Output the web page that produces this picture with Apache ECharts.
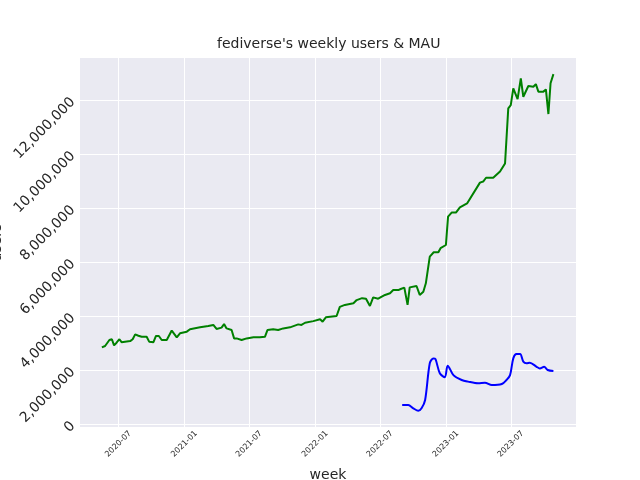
<!DOCTYPE html>
<html>
<head>
<meta charset="utf-8">
<script src="https://cdn.jsdelivr.net/npm/echarts@6/dist/echarts.min.js"></script>
<style>html,body{margin:0;padding:0;background:#fff;}#c{width:640px;height:480px;}</style>
</head>
<body>
<div id="c"></div>
<script>
const greenDates = ['2020-05-16','2020-05-25','2020-05-30','2020-06-06','2020-06-13','2020-06-19','2020-06-26','2020-07-04','2020-07-10','2020-08-03','2020-08-10','2020-08-17','2020-08-26','2020-09-04','2020-09-18','2020-09-25','2020-10-07','2020-10-14','2020-10-22','2020-10-30','2020-11-13','2020-11-27','2020-12-11','2020-12-20','2021-01-08','2021-01-17','2021-02-14','2021-03-09','2021-03-23','2021-04-01','2021-04-15','2021-04-22','2021-04-29','2021-05-13','2021-05-20','2021-05-27','2021-06-10','2021-06-24','2021-07-13','2021-07-31','2021-08-14','2021-08-21','2021-09-06','2021-09-20','2021-10-04','2021-10-23','2021-11-15','2021-11-24','2021-12-04','2021-12-27','2022-01-15','2022-01-22','2022-01-31','2022-03-02','2022-03-11','2022-03-25','2022-04-18','2022-04-27','2022-05-12','2022-05-23','2022-06-03','2022-06-12','2022-06-26','2022-07-15','2022-07-29','2022-08-07','2022-08-21','2022-08-28','2022-09-07','2022-09-16','2022-09-22','2022-10-11','2022-10-20','2022-10-30','2022-11-06','2022-11-17','2022-11-28','2022-12-11','2022-12-17','2023-01-01','2023-01-07','2023-01-17','2023-01-29','2023-02-09','2023-03-01','2023-04-06','2023-04-15','2023-04-23','2023-05-13','2023-06-01','2023-06-15','2023-06-24','2023-07-01','2023-07-08','2023-07-20','2023-07-29','2023-08-05','2023-08-19','2023-09-02','2023-09-09','2023-09-16','2023-09-30','2023-10-07','2023-10-14','2023-10-20','2023-10-28'];
const greenValues = [2840000,2890000,2830000,3110000,3140000,2910000,3010000,3140000,3030000,3070000,3140000,3320000,3270000,3230000,3230000,3050000,3030000,3260000,3260000,3110000,3110000,3460000,3210000,3360000,3420000,3510000,3580000,3630000,3670000,3520000,3570000,3700000,3540000,3480000,3170000,3170000,3110000,3170000,3210000,3210000,3230000,3480000,3510000,3480000,3540000,3580000,3690000,3670000,3750000,3810000,3880000,3790000,3950000,4000000,4340000,4410000,4470000,4590000,4660000,4640000,4370000,4690000,4640000,4780000,4840000,4960000,4960000,5000000,5050000,4410000,5060000,5110000,4780000,4900000,5210000,6200000,6360000,6360000,6510000,6630000,7680000,7830000,7830000,8020000,8170000,8940000,8980000,9120000,9120000,9350000,9650000,11690000,11810000,12430000,12030000,12800000,12120000,12520000,12490000,12590000,12310000,12310000,12390000,11480000,12620000,12960000];
const blueDates = ['2022-09-01','2022-09-18','2022-10-02','2022-10-16','2022-10-25','2022-11-04','2022-11-17','2022-11-27','2022-12-03','2022-12-15','2022-12-29','2023-01-06','2023-01-22','2023-02-14','2023-03-04','2023-04-01','2023-04-20','2023-05-09','2023-06-06','2023-06-19','2023-06-29','2023-07-08','2023-07-17','2023-07-27','2023-08-05','2023-08-14','2023-08-23','2023-09-11','2023-09-20','2023-10-02','2023-10-12','2023-10-28'];
const blueValues = [700000,700000,580000,490000,580000,890000,2250000,2430000,2400000,1880000,1730000,2160000,1810000,1630000,1570000,1510000,1530000,1440000,1480000,1630000,1810000,2430000,2590000,2590000,2310000,2250000,2270000,2120000,2060000,2120000,2000000,1960000];
const yTicks = [0,2000000,4000000,6000000,8000000,10000000,12000000];
const xTicks = ['2020-07-01','2021-01-01','2021-07-01','2022-01-01','2022-07-01','2023-01-01','2023-07-01'];

const ts = s => new Date(s + 'T00:00:00Z').getTime();
const chart = echarts.init(document.getElementById('c'), null, {renderer:'canvas'});
const font = 'DejaVu Sans';
chart.setOption({
  animation: false,
  backgroundColor: '#ffffff',
  textStyle: {fontFamily: font},
  title: {text: "fediverse's weekly users & MAU", left: 217, top: 37, padding: 0,
    textStyle: {fontFamily: font, fontSize: 14, fontWeight: 'normal', color: '#262626'}},
  grid: {left: 80, right: 64, top: 58, bottom: 53, show: true, backgroundColor: '#EAEAF2', borderWidth: 0,
    containLabel: false, outerBoundsMode: 'none'},
  xAxis: {
    type: 'value', min: ts('2020-03-16'), max: ts('2023-12-30'),
    name: 'week', nameLocation: 'middle', nameGap: 41,
    nameTextStyle: {fontFamily: font, fontSize: 14, color: '#262626'},
    axisLine: {show: false}, 
    axisTick: {show: false, customValues: xTicks.map(ts)},
    axisLabel: {customValues: xTicks.map(ts), rotate: 45, fontSize: 8, color: '#262626', margin: 17,
      align: 'center', verticalAlign: 'middle', fontFamily: font,
      formatter: v => { const d = new Date(v); return d.getUTCFullYear() + '-' + String(d.getUTCMonth()+1).padStart(2,'0'); }},
    splitLine: {show: true, lineStyle: {color: '#ffffff', width: 1}}
  },
  yAxis: {
    type: 'value', min: -111111, max: 13555556,
    name: 'users', nameLocation: 'middle', nameGap: 76, nameMoveOverlap: false,
    nameTextStyle: {fontFamily: font, fontSize: 14, color: '#262626'},
    axisLine: {show: false},
    axisTick: {show: false, customValues: yTicks},
    axisLabel: {customValues: yTicks, rotate: 45, fontSize: 14, color: '#262626', margin: 7, fontFamily: font,
      formatter: v => Math.round(v).toLocaleString('en-US')},
    splitLine: {show: true, lineStyle: {color: '#ffffff', width: 1}}
  },
  series: [
    {type: 'line', data: greenDates.map((d,i) => [ts(d), greenValues[i]]), showSymbol: false,
      lineStyle: {color: '#008000', width: 2}, itemStyle: {color: '#008000'}},
    {type: 'line', data: blueDates.map((d,i) => [ts(d), blueValues[i]]), showSymbol: false, smooth: 0.3,
      lineStyle: {color: '#0000ff', width: 2}, itemStyle: {color: '#0000ff'}}
  ]
});
</script>
</body>
</html>
